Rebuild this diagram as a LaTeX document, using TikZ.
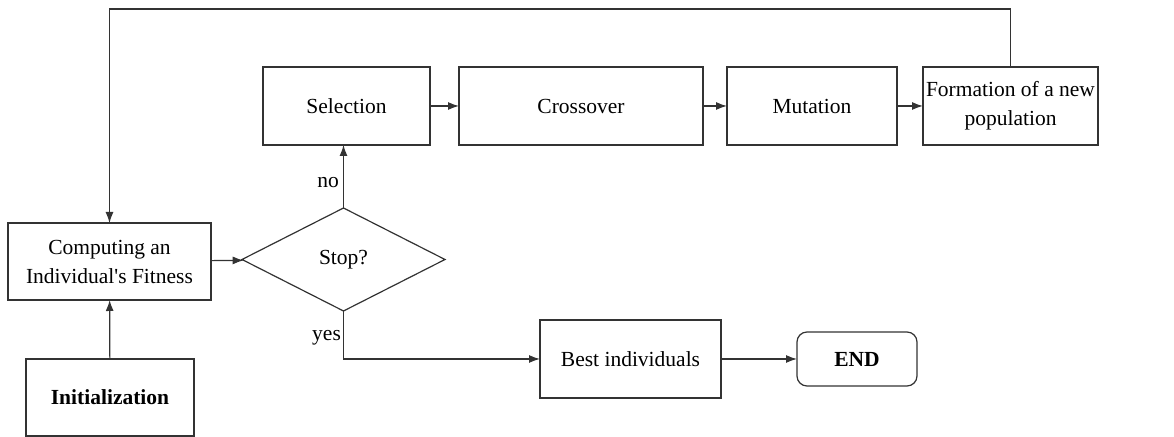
\documentclass[tikz,border=0pt]{standalone}
\usepackage{fontspec}
\setmainfont{Liberation Serif}
\usepackage{tikz}
\usetikzlibrary{arrows.meta}
\usetikzlibrary{shapes.geometric}
\tikzset{
stepbox/.style = {rectangle, minimum width=#1, minimum height=39pt, inner sep=0pt, outer sep=0pt, align=center},
stepbox/.default = 84pt % width of the box
}
\tikzset{decide/.style={diamond, minimum width=101.5pt, minimum height=51.5pt, inner sep=0pt, outer sep=0pt}}
\tikzset{finish/.style={rectangle, rounded corners=5pt, minimum width=60pt, minimum height=27pt, inner sep=0pt, outer sep=0pt}}
\tikzset{link/.style={-{Latex[length=5.5pt,width=4pt]}, draw=black!80}}

\begin{document}
\begin{tikzpicture}[x=0.5pt, y=-0.5pt, every node/.style={font=\fontsize{10.75}{14.5}\selectfont},
      every path/.style={line width=0.6pt}]
      \useasboundingbox (0,0) rectangle (1174,437);
      % first column
      \node [stepbox=101.5pt, draw=black!80, minimum height=38.5pt] (comp) at (109.5,261.5) {Computing an\\Individual\textquotesingle s Fitness};
      \node [stepbox, draw=black!80, minimum height=38.5pt] (init) at (110,397.5) {\textbf{Initialization}};
      \node [decide, draw=black!80] (stop) at (343.5,259.5) {Stop?};
      % main loop
      \node [stepbox=83.5pt, draw=black!80] (sel) at (346.5,106) {Selection};
      \node [stepbox=122pt, draw=black!80] (cross) at (581,106) {Crossover};
      \node [stepbox=85pt, draw=black!80] (mut) at (812,106) {Mutation};
      \node [stepbox=87.5pt, draw=black!80] (form) at (1010.5,106) {Formation of a new\\population};
      % exit
      \node [stepbox=90.5pt, draw=black!80] (best) at (630.5,359) {Best individuals};
      \node [finish, draw=black!80] (end) at (857,359) {\textbf{END}};
      \coordinate (top) at (0,9);

      \draw [link] (init) -- (comp);
      \draw [link] (comp) -- (stop);
      \draw [link] (stop.north) -- (stop.north |- sel.south) node [pos=0.4, left, inner sep=2pt] {no};
      \draw [link] (sel) -- (cross);
      \draw [link] (cross) -- (mut);
      \draw [link] (mut) -- (form);
      \draw [link] (form.north) -- (form.north |- top) -| (comp.north);
      \draw [link] (stop.south) |- (best.west) node [pos=0.28, left, inner sep=1pt] {yes};
      \draw [link] (best) -- (end);
    \end{tikzpicture}
\end{document}
